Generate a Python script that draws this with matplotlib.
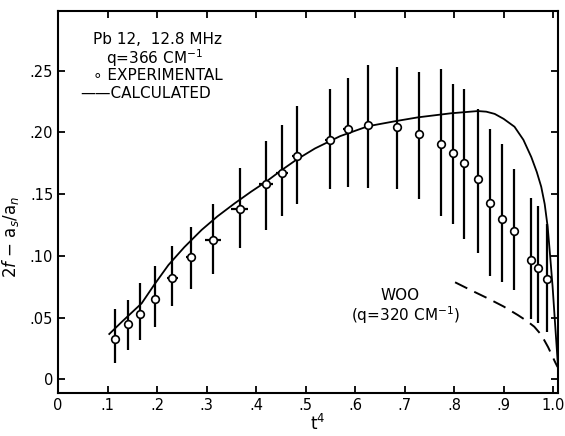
import numpy as np
import matplotlib.pyplot as plt

plt.rcParams['font.family'] = 'DejaVu Sans'

# experimental points: t^4, value, lower and upper end of error bar, horizontal error
t4 = [0.1155, 0.141, 0.165, 0.195, 0.231, 0.269, 0.3125, 0.367, 0.420, 0.452,
      0.482, 0.550, 0.585, 0.626, 0.685, 0.729, 0.773, 0.798, 0.821, 0.848,
      0.873, 0.896, 0.921, 0.956, 0.969, 0.987]
val = [0.033, 0.045, 0.053, 0.065, 0.082, 0.099, 0.113, 0.138, 0.158, 0.167,
       0.181, 0.194, 0.203, 0.206, 0.204, 0.199, 0.191, 0.183, 0.175, 0.162,
       0.143, 0.130, 0.120, 0.097, 0.090, 0.081]
lo = [0.013, 0.024, 0.032, 0.042, 0.059, 0.073, 0.085, 0.106, 0.121, 0.132,
      0.142, 0.154, 0.156, 0.155, 0.154, 0.146, 0.132, 0.126, 0.114, 0.102,
      0.084, 0.079, 0.072, 0.049, 0.046, 0.038]
hi = [0.057, 0.064, 0.078, 0.092, 0.108, 0.123, 0.142, 0.171, 0.193, 0.206,
      0.221, 0.235, 0.244, 0.255, 0.253, 0.249, 0.251, 0.239, 0.235, 0.219,
      0.203, 0.191, 0.170, 0.147, 0.140, 0.126]
xerr = [0, 0, 0, 0, 0.011, 0.010, 0.016, 0.017, 0.014, 0.012,
        0.010, 0.010, 0.010, 0, 0, 0, 0, 0, 0, 0,
        0, 0, 0, 0, 0, 0]

# calculated curve
calc_x = [0.1035, 0.13, 0.169, 0.195, 0.223, 0.255, 0.290, 0.322, 0.357, 0.39,
          0.420, 0.45, 0.482, 0.519, 0.570, 0.626, 0.680, 0.727, 0.794, 0.848,
          0.865, 0.882, 0.90, 0.922, 0.94, 0.956, 0.967, 0.976, 0.983, 0.989,
          0.994, 0.999, 1.004, 1.010]
calc_y = [0.0367, 0.047, 0.0616, 0.077, 0.0926, 0.107, 0.121, 0.132, 0.1426, 0.152,
          0.160, 0.169, 0.178, 0.187, 0.197, 0.205, 0.209, 0.2122, 0.2155, 0.2173,
          0.2168, 0.215, 0.211, 0.2046, 0.194, 0.180, 0.168, 0.156, 0.142, 0.1236,
          0.100, 0.075, 0.045, 0.010]

# Woo curve (q=320)
woo_x = [0.802, 0.835, 0.868, 0.90, 0.929, 0.948, 0.962, 0.974, 0.982, 0.99,
         0.997, 1.004, 1.009]
woo_y = [0.0786, 0.072, 0.0656, 0.059, 0.052, 0.047, 0.0426, 0.037, 0.0318, 0.026,
         0.020, 0.014, 0.010]

xticks = [0, .1, .2, .3, .4, .5, .6, .7, .8, .9, 1.0]
xticklabels = ['0', '.1', '.2', '.3', '.4', '.5', '.6', '.7', '.8', '.9', '1.0']
yticks = [0, .05, .10, .15, .20, .25]
yticklabels = ['0', '.05', '.10', '.15', '.20', '.25']

fig = plt.figure(figsize=(5.65, 4.36), dpi=100)
ax = fig.add_axes([0.1027, 0.098, 0.885, 0.8775])

val = np.array(val)
yerr = [val - np.array(lo), np.array(hi) - val]
ax.errorbar(t4, val, yerr=yerr, xerr=xerr, fmt='o', mfc='white', mec='black',
            ms=5.5, mew=1.2, ecolor='black', elinewidth=1.6, capsize=0, zorder=3)
ax.plot(calc_x, calc_y, color='black', lw=1.3, zorder=2)
ax.plot(woo_x, woo_y, color='black', lw=1.4, dashes=(7, 4))

ax.set_xlim(0, 1.01)
ax.set_ylim(-0.0113, 0.2986)
ax.set_xticks(xticks)
ax.set_xticklabels(xticklabels)
ax.set_yticks(yticks)
ax.set_yticklabels(yticklabels)
ax.tick_params(direction='in', length=5, width=1.3, labelsize=10.5,
               top=True, right=True, labeltop=False, labelright=False)
for s in ax.spines.values():
    s.set_linewidth(1.5)

ax.set_xlabel('t$^4$', fontsize=12, labelpad=0)
ax.xaxis.set_label_coords(0.52, -0.055)
ax.set_ylabel('2$f$ $-$ a$_s$/a$_n$', fontsize=12)
ax.yaxis.set_label_coords(-0.075, 0.41)

tr = ax.transAxes
ax.text(0.07, 0.925, 'Pb 12,  12.8 MHz', transform=tr, fontsize=11, va='center')
ax.text(0.095, 0.877, 'q=366 CM$^{-1}$', transform=tr, fontsize=11, va='center')
ax.text(0.07, 0.83, '\u2218 EXPERIMENTAL', transform=tr, fontsize=11, va='center')
ax.text(0.045, 0.783, '\u2014\u2014CALCULATED', transform=tr, fontsize=11, va='center')

ax.text(0.685, 0.255, 'WOO', transform=tr, fontsize=11, ha='center', va='center')
ax.text(0.695, 0.205, '(q=320 CM$^{-1}$)', transform=tr, fontsize=11, ha='center', va='center')

fig.savefig('out.png', dpi=100)
